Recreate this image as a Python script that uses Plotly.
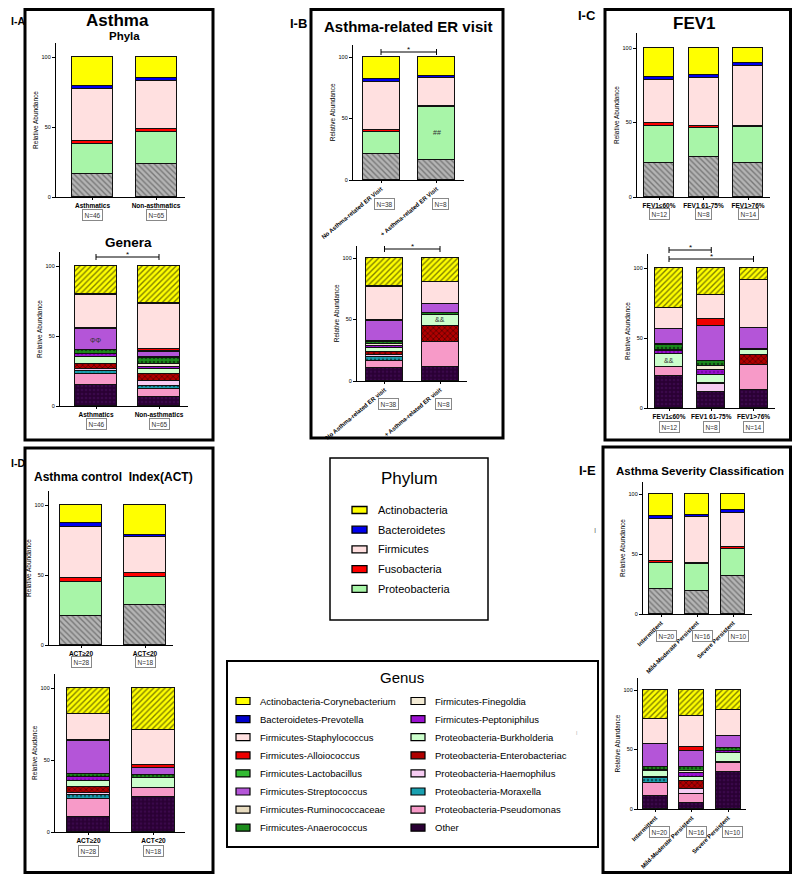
import plotly.graph_objects as go

# the page adds an 8 px body margin, so the figure is drawn 8 px in and kept inside the window
OFF = 8
W, H = 800 - 2 * OFF, 882 - 2 * OFF
FONT = "Arial, 'Liberation Sans', sans-serif"

# ---- data (percent relative abundance, stacked bottom -> top) ----
phyla = ["Other", "Proteobacteria", "Fusobacteria", "Firmicutes", "Bacteroidetes", "Actinobacteria"]
genera = ["Other", "Proteobacteria-Pseudomonas", "Proteobacteria-Moraxella", "Proteobacteria-Haemophilus",
          "Proteobacteria-Enterobacteriac", "Proteobacteria-Burkholderia", "Firmicutes-Peptoniphilus",
          "Firmicutes-Finegoldia", "Firmicutes-Anaerococcus", "Firmicutes-Ruminococcaceae",
          "Firmicutes-Streptococcus", "Firmicutes-Lactobacillus", "Firmicutes-Alloiococcus",
          "Firmicutes-Staphylococcus", "Bacteroidetes-Prevotella", "Actinobacteria-Corynebacterium"]

asthma_groups = ["Asthmatics", "Non-asthmatics"]
asthma_n = ["N=46", "N=65"]
asthma_phyla = [[16.2, 21.4, 2.2, 37.2, 2.3, 20.7],
                [23.6, 22.6, 2.1, 34.7, 2.1, 14.9]]
asthma_genera = [[14.8, 8.1, 2.3, 1.0, 4.0, 4.7, 1.9, 0.5, 2.4, 0.3, 14.8, 0.2, 0.5, 23.8, 0.5, 20.2],
                 [6.7, 5.2, 2.4, 3.6, 5.0, 3.3, 1.9, 1.9, 4.0, 0.8, 3.5, 0.7, 2.0, 31.9, 0.4, 26.7]]

er_groups = ["No Asthma-related ER Visit", "+ Asthma-related ER Visit"]
er_groups2 = ["No Asthma-related ER visit", "+ Asthma-related ER visit"]
er_n = ["N=38", "N=8"]
er_phyla = [[21.1, 18.1, 1.3, 39.8, 1.9, 17.8],
            [16.8, 42.7, 1.0, 22.5, 1.9, 15.1]]
er_genera = [[10.8, 6.0, 3.2, 1.0, 2.5, 3.3, 1.6, 1.6, 2.2, 0.5, 16.2, 0.3, 0.3, 27.5, 0.2, 22.8],
             [11.6, 20.0, 0, 0, 13.0, 8.9, 0.5, 0.3, 1.1, 0, 7.6, 0, 0.2, 17.8, 0, 19.0]]

fev_groups = ["FEV1≤60%", "FEV1 61-75%", "FEV1>76%"]
fev_n = ["N=12", "N=8", "N=14"]
fev_phyla = [[22.9, 25.0, 2.0, 28.3, 2.2, 19.6],
             [27.0, 19.0, 1.4, 32.4, 1.8, 18.4],
             [22.5, 24.2, 1.2, 40.2, 2.0, 9.9]]
fev_genera = [[23.1, 5.9, 0, 0, 0.5, 9.1, 2.4, 0.3, 3.9, 0.5, 11.0, 0, 0, 14.7, 0, 28.6],
              [11.7, 0, 0, 5.7, 0.5, 5.9, 3.6, 2.4, 3.5, 0, 25.0, 0, 5.3, 17.4, 0, 19.0],
              [12.6, 18.4, 0, 0, 7.1, 3.6, 0.7, 0, 0, 0, 14.7, 0, 0, 34.1, 0, 8.8]]

act_groups = ["ACT≥20", "ACT<20"]
act_n = ["N=28", "N=18"]
act_phyla = [[21.0, 24.2, 2.4, 36.9, 2.9, 12.6],
             [28.6, 20.2, 2.4, 25.7, 1.7, 21.4]]
act_genera = [[10.4, 12.5, 3.0, 1.2, 4.6, 4.2, 2.3, 0.5, 1.8, 0.3, 22.9, 0, 0.3, 18.0, 0, 18.0],
              [24.8, 5.8, 0, 0, 0, 6.9, 0, 0.3, 2.0, 0, 4.6, 0, 2.4, 24.3, 0, 28.9]]

sev_groups = ["Intermittent", "Mild-Moderate Persistent", "Severe Persistent"]
sev_n = ["N=20", "N=16", "N=10"]
sev_phyla = [[20.8, 21.6, 1.4, 35.4, 2.2, 18.6],
             [18.8, 23.0, 0.6, 38.8, 1.6, 17.2],
             [31.3, 22.7, 1.7, 28.8, 2.2, 13.3]]
sev_genera = [[11.2, 10.6, 4.2, 0.3, 0.3, 5.0, 1.5, 0, 2.1, 0, 19.5, 0, 0, 21.0, 0, 24.3],
              [5.0, 7.8, 0, 4.0, 6.9, 2.8, 3.7, 1.4, 3.6, 0, 13.1, 0, 3.7, 25.7, 0, 22.3],
              [30.7, 7.8, 0, 0, 0.9, 7.5, 2.0, 0, 2.2, 0, 9.8, 0, 0, 22.3, 0, 16.8]]

# ---- styles: (fill, pattern shape, pattern colour) ----
phyla_style = {
    "Other": ("#b4b4b4", "\\", "#3a3a3a"),
    "Proteobacteria": ("#a8f5a8", "", None),
    "Fusobacteria": ("#ff0000", "", None),
    "Firmicutes": ("#ffe0e0", "", None),
    "Bacteroidetes": ("#0000ee", "", None),
    "Actinobacteria": ("#ffff00", "", None),
}
genus_style = {
    "Actinobacteria-Corynebacterium": ("#ffff00", "/", "#000000"),
    "Bacteroidetes-Prevotella": ("#0000cc", "", None),
    "Firmicutes-Staphylococcus": ("#ffe0e0", "", None),
    "Firmicutes-Alloiococcus": ("#ee0000", "", None),
    "Firmicutes-Lactobacillus": ("#33bb33", "", None),
    "Firmicutes-Streptococcus": ("#b455d8", "", None),
    "Firmicutes-Ruminococcaceae": ("#e8dcc0", "", None),
    "Firmicutes-Anaerococcus": ("#1c8c1c", ".", "#000000"),
    "Firmicutes-Finegoldia": ("#f3ebd5", "", None),
    "Firmicutes-Peptoniphilus": ("#9b10d0", ".", "#5a0080"),
    "Proteobacteria-Burkholderia": ("#ccffcc", "", None),
    "Proteobacteria-Enterobacteriac": ("#b00000", "x", "#000000"),
    "Proteobacteria-Haemophilus": ("#f6ccf2", "", None),
    "Proteobacteria-Moraxella": ("#1aa0b0", ".", "#000000"),
    "Proteobacteria-Pseudomonas": ("#f79ac8", "", None),
    "Other": ("#2a0034", ".", "#4a1060"),
}


def px(x):
    return (x - OFF) / W


def py(y):
    return 1 - (y - OFF) / H


fig = go.Figure()
annotations = []
shapes = []
axis_count = [0]


def add_panel(groups, values, names, styles, geom, ntext, nbox_y, label_angle=0, ytitle="Relative Abundance",
              nbox_dx=0):
    axis_count[0] += 1
    k = axis_count[0]
    xl, xr, c0, c1, bw_px, y0, y100 = geom
    n = len(groups)
    unit = (c1 - c0) / (n - 1)
    xrange = [-(c0 - xl) / unit, (n - 1) + (xr - c1) / unit]
    ytop = y0 - 1.1 * (y0 - y100)
    for j, name in enumerate(names):
        fill, pat, fg = styles[name]
        marker = dict(color=fill, line=dict(color="#111111", width=1))
        if pat:
            marker["pattern"] = dict(shape=pat, fgcolor=fg, bgcolor=fill, size=4, solidity=0.35)
        fig.add_trace(go.Bar(
            x=list(range(n)), y=[values[g][j] for g in range(n)], width=bw_px / unit,
            marker=marker, name=name, showlegend=False,
            xaxis=f"x{k}", yaxis=f"y{k}", hovertemplate=name + ": %{y}%<extra></extra>"))
    xa = dict(domain=[px(xl), px(xr)], range=xrange, anchor=f"y{k}", showline=True, linecolor="black",
              linewidth=1.3, showgrid=False, zeroline=False, tickmode="array", tickvals=list(range(n)),
              ticktext=groups, tickangle=label_angle, ticks="outside", ticklen=2, tickcolor="black",
              automargin=False,
              tickfont=dict(size=6.5 if label_angle == 0 else 6, family=FONT, color="black", weight="bold"))
    ya = dict(domain=[py(y0), py(ytop)], range=[0, 110], anchor=f"x{k}", showline=True, linecolor="black",
              linewidth=1.3, showgrid=False, zeroline=False, tickvals=[0, 50, 100], ticks="outside",
              ticklen=3, tickcolor="black", tickfont=dict(size=5.5, family=FONT, color="black"),
              automargin=False,
              title=dict(text=ytitle, font=dict(size=6.5, family=FONT, color="black"), standoff=2))
    fig.update_layout({f"xaxis{k}": xa, f"yaxis{k}": ya})
    for i, t in enumerate(ntext):
        annotations.append(dict(xref=f"x{k}", yref="paper", x=i + nbox_dx, y=py(nbox_y), text=t,
                                xanchor="center", yanchor="middle", showarrow=False,
                                font=dict(size=6.5, family=FONT, color="#333"),
                                bordercolor="#888", borderwidth=1, borderpad=1.5))
    return k


def bracket(k, i0, i1, y):
    shapes.append(dict(type="line", xref=f"x{k}", yref="paper", x0=i0, x1=i1, y0=py(y), y1=py(y),
                       line=dict(color="black", width=1)))
    for i in (i0, i1):
        shapes.append(dict(type="line", xref=f"x{k}", yref="paper", x0=i, x1=i, y0=py(y - 3), y1=py(y + 3),
                           line=dict(color="black", width=1)))
    annotations.append(dict(xref=f"x{k}", yref="paper", x=(i0 + i1) / 2, y=py(y - 2.5), text="*",
                            xanchor="center", yanchor="middle", showarrow=False,
                            font=dict(size=8, family=FONT, color="black")))


def text(x, y, t, size, bold=True, color="black", anchor="center"):
    annotations.append(dict(xref="paper", yref="paper", x=px(x), y=py(y), text=f"<b>{t}</b>" if bold else t,
                            showarrow=False, xanchor=anchor, yanchor="middle",
                            font=dict(size=size, family=FONT, color=color)))


# ---- panels ----
kA1 = add_panel(asthma_groups, asthma_phyla, phyla, phyla_style, (56, 185, 92.5, 156, 41, 197, 57), asthma_n, 215)
kA2 = add_panel(asthma_groups, asthma_genera, genera, genus_style, (60, 188, 96, 159, 42, 406, 266), asthma_n, 424)
kB1 = add_panel(er_groups, er_phyla, phyla, phyla_style, (353, 464, 381, 436.5, 37, 180, 57), er_n, 204,
                label_angle=-40, nbox_dx=0.07)
kB2 = add_panel(er_groups2, er_genera, genera, genus_style, (357, 467, 384.5, 440, 37, 381, 258), er_n, 404,
                label_angle=-40, nbox_dx=0.07)
kC1 = add_panel(fev_groups, fev_phyla, phyla, phyla_style, (637, 770, 659, 748, 30, 197, 48), fev_n, 214)
kC2 = add_panel(fev_groups, fev_genera, genera, genus_style, (648, 775, 669, 753.5, 28, 408, 268), fev_n, 427)
kD1 = add_panel(act_groups, act_phyla, phyla, phyla_style, (49, 173, 81, 145, 42, 645, 505), act_n, 662)
kD2 = add_panel(act_groups, act_genera, genera, genus_style, (55, 185, 88.5, 153.5, 43, 832, 688), act_n, 851,
                ytitle="Relative Abudance")
kE1 = add_panel(sev_groups, sev_phyla, phyla, phyla_style, (643, 752, 661, 733, 24, 614, 494), sev_n, 636,
                label_angle=-45, nbox_dx=0.14)
kE2 = add_panel(sev_groups, sev_genera, genera, genus_style, (638, 746, 655.5, 728, 25, 809, 690), sev_n, 832,
                label_angle=-45, nbox_dx=0.12)

# significance brackets
bracket(kA2, 0, 1, 257)
bracket(kB1, 0, 1, 52)
bracket(kB2, 0, 1, 249)
bracket(kC2, 0, 1, 250)
bracket(kC2, 0, 2, 259)

# in-bar markers
for k, i, yv, t in [(kA2, 0, 47, "ΦΦ"), (kB1, 1, 39, "##"), (kB2, 1, 50, "&&"), (kC2, 0, 34, "&&")]:
    annotations.append(dict(xref=f"x{k}", yref=f"y{k}", x=i, y=yv, text=t, showarrow=False,
                            xanchor="center", yanchor="middle", font=dict(size=7, family=FONT, color="#333")))

# ---- panel frames and titles (kept inside the visible window) ----
for x0, y0, x1, y1 in [(25, 9.5, 213, 440), (311, 9.5, 503, 438), (605, 9.5, 790.5, 440),
                       (25, 448, 213, 872.5), (603, 447, 790.5, 872.5)]:
    shapes.append(dict(type="rect", xref="paper", yref="paper", x0=px(x0), x1=px(x1), y0=py(y0), y1=py(y1),
                       line=dict(color="black", width=3)))

text(8.5, 21, "I-A", 10.5, anchor="left")
text(298, 23, "I-B", 13)
text(587, 16, "I-C", 13)
text(8.5, 463, "I-D", 10.5, anchor="left")
text(587, 470, "I-E", 13)

text(118, 20, "Asthma", 17)
text(124, 36, "Phyla", 11.5)
text(128, 242, "Genera", 13.5)
text(408, 27, "Asthma-related ER visit", 15)
text(694, 23, "FEV1", 17)
text(113, 477, "Asthma control  Index(ACT)", 12)
text(700, 471, "Asthma Severity Classification", 11.5)

# ---- Phylum legend ----
shapes.append(dict(type="rect", xref="paper", yref="paper", x0=px(330), x1=px(488), y0=py(458), y1=py(620),
                   line=dict(color="black", width=1.5)))
text(409, 478, "Phylum", 17, bold=False)
legend_phyla = list(reversed(phyla[1:]))
for i, name in enumerate(legend_phyla):
    yy = 510 + i * 19.7
    shapes.append(dict(type="rect", xref="paper", yref="paper", x0=px(352), x1=px(367), y0=py(yy - 3.5),
                       y1=py(yy + 3.5), fillcolor=phyla_style[name][0], line=dict(color="black", width=1.3)))
    text(376, yy, name, 11, bold=False, anchor="left")

# ---- Genus legend ----
shapes.append(dict(type="rect", xref="paper", yref="paper", x0=px(227), x1=px(598), y0=py(661), y1=py(847),
                   line=dict(color="black", width=2)))
text(402, 677, "Genus", 15, bold=False)
legend_genera = list(reversed(genera))
for i, name in enumerate(legend_genera):
    col, row = divmod(i, 8)
    yy = 701 + row * 18.1
    sx = 236 if col == 0 else 411
    tx = 258 if col == 0 else 433
    shapes.append(dict(type="rect", xref="paper", yref="paper", x0=px(sx), x1=px(sx + 14), y0=py(yy - 3.5),
                       y1=py(yy + 3.5), fillcolor=genus_style[name][0], line=dict(color="black", width=1.2)))
    text(tx, yy, name, 9.5, bold=False, anchor="left")

text(595, 530, "I", 8, bold=False, color="#777")
text(576, 733, "I", 5, bold=False, color="#aaa")

fig.update_layout(width=W, height=H, margin=dict(l=0, r=0, t=0, b=0, autoexpand=False), barmode="stack",
                  bargap=0, plot_bgcolor="white", paper_bgcolor="white", showlegend=False,
                  annotations=annotations, shapes=shapes, font=dict(family=FONT))

fig.write_html("out.html")
